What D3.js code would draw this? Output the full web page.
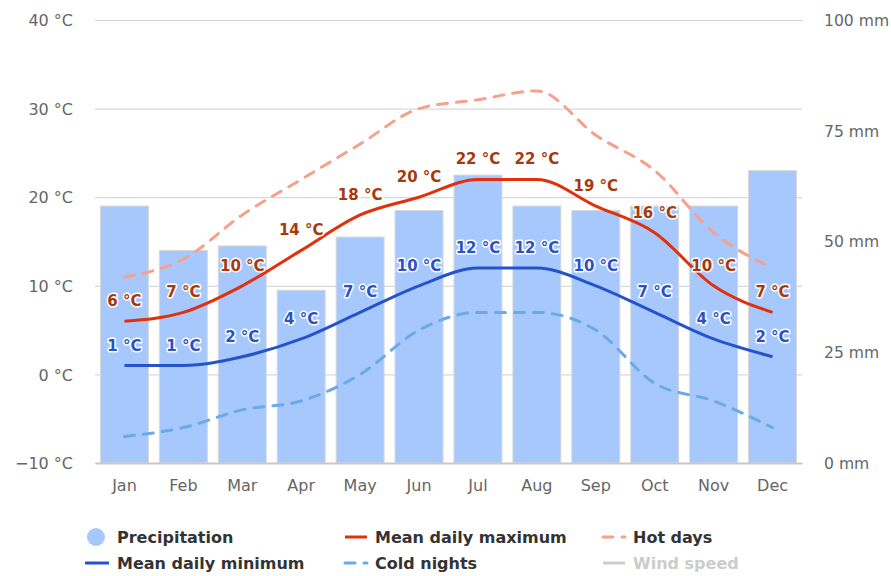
<!DOCTYPE html>
<html>
<head>
<meta charset="utf-8">
<script src="https://cdn.jsdelivr.net/npm/d3@7"></script>
<style>
  body { margin: 0; background: #fff; }
  svg { font-family: "DejaVu Sans", Verdana, sans-serif; display: block; }
</style>
</head>
<body>
<div id="chart"></div>
<script>
// monthly climate values
const months = ["Jan", "Feb", "Mar", "Apr", "May", "Jun", "Jul", "Aug", "Sep", "Oct", "Nov", "Dec"];
const precipitation = [58, 48, 49, 39, 51, 57, 65, 58, 57, 58, 58, 66];
const meanMax = [6, 7, 10, 14, 18, 20, 22, 22, 19, 16, 10, 7];
const meanMin = [1, 1, 2, 4, 7, 10, 12, 12, 10, 7, 4, 2];
const hotDays = [11, 13, 18, 22, 26, 30, 31, 32, 27, 23, 16, 12];
const coldNights = [-7, -6, -4, -3, 0, 5, 7, 7, 5, -1, -3, -6];
const tempTicks = [-10, 0, 10, 20, 30, 40];
const rainTicks = [0, 25, 50, 75, 100];
const legendItems = ["Precipitation", "Mean daily maximum", "Hot days", "Mean daily minimum", "Cold nights", "Wind speed"];

const width = 891;
const height = 576;
const margin = { top: 20, right: 89, bottom: 113, left: 95 };
const font = '"DejaVu Sans", Verdana, sans-serif';

const svg = d3.select("#chart")
    .append("svg")
    .attr("width", width)
    .attr("height", height);

const x = d3.scaleBand()
    .domain(months)
    .range([margin.left, width - margin.right]);

const yTemp = d3.scaleLinear()
    .domain([-10, 40])
    .range([height - margin.bottom, margin.top]);

const yRain = d3.scaleLinear()
    .domain([0, 100])
    .range([height - margin.bottom, margin.top]);

const cx = m => x(m) + x.bandwidth() / 2;

// gridlines
svg.append("g")
    .selectAll("line")
    .data(tempTicks)
    .join("line")
    .attr("x1", margin.left)
    .attr("x2", width - margin.right)
    .attr("y1", d => yTemp(d) + 0.5)
    .attr("y2", d => yTemp(d) + 0.5)
    .attr("stroke", "#cfcfcf")
    .attr("stroke-width", 1);

// left axis
const leftAxis = svg.append("g")
    .attr("transform", `translate(${margin.left - 22},0)`)
    .call(d3.axisLeft(yTemp).tickValues(tempTicks).tickSize(0).tickFormat(d => (d < 0 ? "\u2212" + Math.abs(d) : d) + " °C"))
    .attr("font-family", font)
    .attr("font-size", 16);
leftAxis.select(".domain").remove();
leftAxis.selectAll("text")
    .attr("x", 0)
    .attr("dy", "0.35em")
    .attr("fill", "#666");

// right axis
const rightAxis = svg.append("g")
    .attr("transform", `translate(${width - margin.right + 22},0)`)
    .call(d3.axisRight(yRain).tickValues(rainTicks).tickSize(0).tickFormat(d => d + " mm"))
    .attr("font-family", font)
    .attr("font-size", 15.6);
rightAxis.select(".domain").remove();
rightAxis.selectAll("text")
    .attr("x", 0)
    .attr("dy", "0.35em")
    .attr("fill", "#666");

// bars
const barW = 48;
svg.append("g")
    .selectAll("rect")
    .data(months)
    .join("rect")
    .attr("x", (d) => cx(d) - barW / 2)
    .attr("y", (d, i) => yRain(precipitation[i]))
    .attr("width", barW)
    .attr("height", (d, i) => yRain(0) - yRain(precipitation[i]))
    .attr("fill", "#a7c8fd")
    .attr("stroke", "#d9d9d9")
    .attr("stroke-width", 1);

// bottom axis
const bottomAxis = svg.append("g")
    .attr("transform", `translate(0,${height - margin.bottom})`)
    .call(d3.axisBottom(x).tickSize(0).tickPadding(17))
    .attr("font-family", font)
    .attr("font-size", 16);
bottomAxis.select(".domain")
    .attr("stroke", "#c8c8c8")
    .attr("stroke-width", 2);
bottomAxis.selectAll("text")
    .attr("fill", "#666");

const line = d3.line()
    .x((d, i) => cx(months[i]))
    .y(d => yTemp(d))
    .curve(d3.curveMonotoneX);

function drawLine(values, color, dashed) {
    svg.append("path")
        .datum(values)
        .attr("fill", "none")
        .attr("stroke", color)
        .attr("stroke-width", 3)
        .attr("stroke-linecap", dashed ? "round" : "butt")
        .attr("stroke-dasharray", dashed ? "10,9" : null)
        .attr("d", line);
}

drawLine(hotDays, "#f7a08c", true);
drawLine(coldNights, "#6aaae8", true);
drawLine(meanMax, "#e0300c", false);
drawLine(meanMin, "#2453cc", false);

function drawLabels(values, color) {
    svg.append("g")
        .selectAll("text")
        .data(values)
        .join("text")
        .attr("x", (d, i) => cx(months[i]))
        .attr("y", d => yTemp(d) - 15)
        .attr("text-anchor", "middle")
        .attr("fill", color)
        .attr("stroke", "#fff")
        .attr("stroke-width", 3)
        .attr("stroke-linejoin", "round")
        .attr("paint-order", "stroke")
        .style("font-size", "15px")
        .style("font-weight", "bold")
        .text(d => d + " °C");
}

drawLabels(meanMax, "#a63a0e");
drawLabels(meanMin, "#2c52c4");

// legend
const legendColors = ["#a7c8fd", "#e0300c", "#f7a08c", "#2453cc", "#6aaae8", "#cccccc"];
const legendDash = [false, false, true, false, true, false];
const colX = [117, 375, 633];
const rowY = [537, 563];

const legend = svg.append("g");
legendItems.forEach((name, i) => {
    const lx = colX[i % 3];
    const ly = rowY[Math.floor(i / 3)];
    const g = legend.append("g").attr("transform", `translate(${lx},${ly})`);
    if (i === 0) {
        g.append("circle")
            .attr("cx", -21)
            .attr("cy", 0)
            .attr("r", 9)
            .attr("fill", legendColors[i]);
    } else {
        g.append("line")
            .attr("x1", i === 3 ? -32 : -30)
            .attr("x2", -8)
            .attr("y1", 0)
            .attr("y2", 0)
            .attr("stroke", legendColors[i])
            .attr("stroke-width", 3)
            .attr("stroke-linecap", legendDash[i] ? "round" : "butt")
            .attr("stroke-dasharray", legendDash[i] ? "10,9" : null);
    }
    g.append("text")
        .attr("x", 0)
        .attr("y", 0)
        .attr("dy", "0.35em")
        .attr("fill", i === 5 ? "#cccccc" : "#333")
        .style("font-size", "16px")
        .style("font-weight", "bold")
        .text(name);
});
</script>
</body>
</html>
